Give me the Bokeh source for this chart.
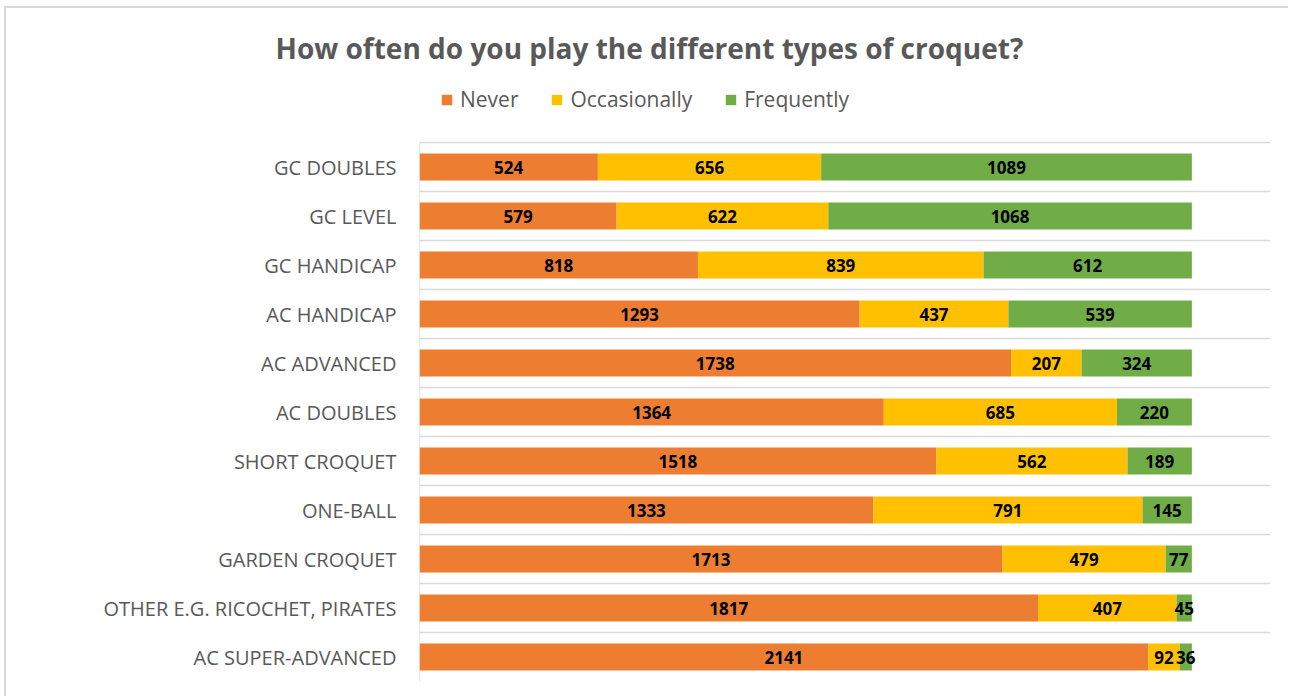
from bokeh.plotting import figure
from bokeh.models import ColumnDataSource, FixedTicker, Legend, LegendItem
from bokeh.core.properties import value
from bokeh.embed import file_html
from bokeh.resources import INLINE

categories = ["GC DOUBLES", "GC LEVEL", "GC HANDICAP", "AC HANDICAP", "AC ADVANCED",
              "AC DOUBLES", "SHORT CROQUET", "ONE-BALL", "GARDEN CROQUET",
              "OTHER E.G. RICOCHET, PIRATES", "AC SUPER-ADVANCED"]
never = [524, 579, 818, 1293, 1738, 1364, 1518, 1333, 1713, 1817, 2141]
occasionally = [656, 622, 839, 437, 207, 685, 562, 791, 479, 407, 92]
frequently = [1089, 1068, 612, 539, 324, 220, 189, 145, 77, 45, 36]
series_names = ["Never", "Occasionally", "Frequently"]
colors = ["#ED7D31", "#FFC000", "#70AD47"]

n = len(categories)
ypos = [n - 1 - i for i in range(n)]

src = ColumnDataSource(dict(y=ypos, never=never, occasionally=occasionally,
                            frequently=frequently))

# figure content starts at page (6, 8) because of the chart border
W, H = 1284, 690
row_px = 49.0          # pixel height of one category row
top_px = 62            # frame top (title panel above it)
head_px = 134 - top_px # room inside the frame above the bars (legend)
p = figure(width=W, height=H, output_backend="svg", toolbar_location=None,
           x_range=(0, 2500), y_range=(-0.5, n - 0.5 + head_px / row_px),
           min_border_left=413, min_border_right=20,
           min_border_top=top_px, min_border_bottom=17)
p.styles = {"margin-left": "4px", "margin-top": "6px",
            "border-left": "2px solid #D9D9D9", "border-top": "2px solid #D9D9D9"}
p.outline_line_color = None
p.background_fill_color = "white"
p.border_fill_color = "white"

# grid lines between categories
p.xgrid.visible = False
p.ygrid.ticker = FixedTicker(ticks=[k - 0.5 for k in range(n + 1)])
p.ygrid.grid_line_color = "#D9D9D9"
p.ygrid.grid_line_width = 1.5

# vertical category axis line (only over the bar area)
p.segment(x0=[0], y0=[-0.5], x1=[0], y1=[n - 0.5], line_color="#D9D9D9", line_width=1.5)

rs = p.hbar_stack(["never", "occasionally", "frequently"], y="y", height=0.55,
                  color=colors, line_color=None, source=src)

# value labels centred in each segment
cols = [never, occasionally, frequently]
lx, ly, lt = [], [], []
for i in range(n):
    start = 0
    for s in range(3):
        v = cols[s][i]
        lx.append(start + v / 2)
        ly.append(ypos[i])
        lt.append(str(v))
        start += v
p.text(x=lx, y=ly, text=lt, text_align="center", text_baseline="middle",
       text_font=value("Open Sans"), text_font_style="bold",
       text_font_size="17px", text_color="black")

# axes
p.xaxis.visible = False
p.yaxis.ticker = FixedTicker(ticks=ypos)
p.yaxis.major_label_overrides = {ypos[i]: categories[i] for i in range(n)}
p.yaxis.major_tick_line_color = None
p.yaxis.minor_tick_line_color = None
p.yaxis.axis_line_color = None
p.yaxis.major_label_standoff = 17
p.yaxis.major_label_text_font = "Open Sans"
p.yaxis.major_label_text_font_size = "20px"
p.yaxis.major_label_text_color = "#595959"

# title (above panel, shifted left to the chart centre)
p.title.text = "How often do you play the different types of croquet?"
p.title.align = "left"
p.title.offset = -144
p.title.standoff = 7
p.title.text_font = "Open Sans"
p.title.text_font_style = "bold"
p.title.text_font_size = "28px"
p.title.text_color = "#595959"

# legend
legend = Legend(items=[LegendItem(label=series_names[k], renderers=[rs[k]]) for k in range(3)],
                orientation="horizontal", location=(21, 568),
                padding=0, margin=0, spacing=32, label_standoff=7,
                glyph_width=13, glyph_height=13,
                label_text_font="Open Sans", label_text_font_size="21px",
                label_text_color="#595959", label_text_baseline="middle",
                border_line_color=None, background_fill_alpha=0)
p.add_layout(legend, "center")

open("out.html", "w").write(file_html(p, INLINE))
